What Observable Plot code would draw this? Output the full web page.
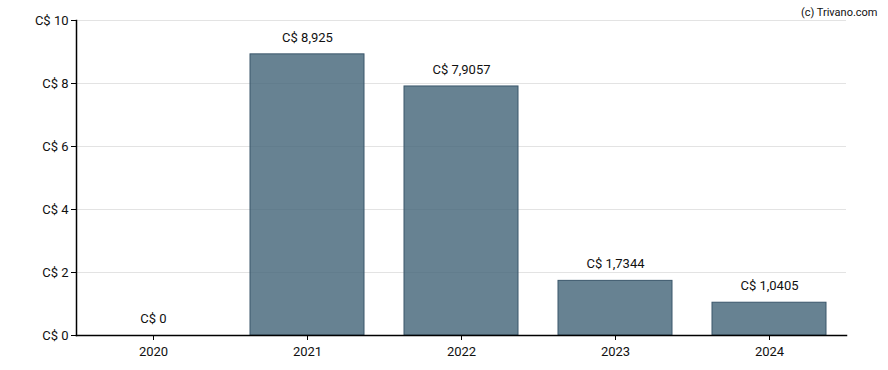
<!DOCTYPE html>
<html>
<head>
<meta charset="utf-8">
<script src="https://cdn.jsdelivr.net/npm/d3@7"></script>
<script src="https://cdn.jsdelivr.net/npm/@observablehq/plot@0.6"></script>
<style>
  html, body { margin: 0; padding: 0; background: #fff; }
  #chart svg { display: block; }
</style>
</head>
<body>
<div id="chart"></div>
<script>
const years = ["2020", "2021", "2022", "2023", "2024"];
const values = [0, 8.925, 7.9057, 1.7344, 1.0405];
const valueLabels = ["C$ 0", "C$ 8,925", "C$ 7,9057", "C$ 1,7344", "C$ 1,0405"];
const yTicks = [0, 2, 4, 6, 8, 10];
const credit = "(c) Trivano.com";

const data = years.map((y, i) => ({year: y, value: values[i], label: valueLabels[i]}));

const chart = Plot.plot({
  width: 888,
  height: 370,
  marginLeft: 76,
  marginRight: 42,
  marginTop: 20,
  marginBottom: 35,
  style: {fontFamily: "Roboto, sans-serif", fontSize: "13px", color: "#111", background: "#fff"},
  x: {domain: years, paddingInner: 0.26, paddingOuter: 0.13, label: null},
  y: {domain: [0, 10], label: null},
  marks: [
    Plot.ruleY(yTicks.filter(d => d > 0), {stroke: "#e3e3e3", strokeWidth: 1}),
    Plot.barY(data, {x: "year", y: "value", fill: "#416377", fillOpacity: 0.8, stroke: "#3a566b", strokeWidth: 1}),
    Plot.axisY({ticks: yTicks, tickFormat: d => "C$ " + d, tickSize: 5, tickPadding: 3, fontSize: 13, stroke: "#000", strokeOpacity: 1}),
    Plot.axisX({tickSize: 5, tickPadding: 6, fontSize: 13, stroke: "#000", strokeOpacity: 1}),
    Plot.frame({anchor: "left", stroke: "#000", strokeWidth: 1.5}),
    Plot.frame({anchor: "bottom", stroke: "#000", strokeWidth: 1.5}),
    Plot.text(data, {x: "year", y: "value", text: "label", dy: -17, fontSize: 13, fill: "#111"}),
    Plot.text([credit], {frameAnchor: "top-right", dx: 31, dy: -12, fontSize: 11, fill: "#111", textAnchor: "end"})
  ]
});
document.getElementById("chart").appendChild(chart);
</script>
</body>
</html>
